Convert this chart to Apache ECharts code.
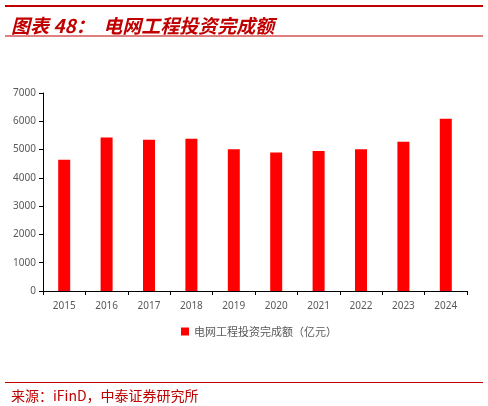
<!DOCTYPE html>
<html><head><meta charset="utf-8">
<script src="https://cdn.jsdelivr.net/npm/echarts@6/dist/echarts.min.js"></script>
<style>html,body{margin:0;padding:0;background:#fff}#c{width:488px;height:406px}</style>
</head><body><div id="c"></div>
<script>
const categories = ['2015','2016','2017','2018','2019','2020','2021','2022','2023','2024'];
const investment = [4640, 5430, 5350, 5380, 5010, 4900, 4950, 5010, 5280, 6090];
const seriesName = '电网工程投资完成额（亿元）';
const yTicks = {min: 0, max: 7000, interval: 1000};

const chart = echarts.init(document.getElementById('c'));
chart.setOption({
  animation: false,
  backgroundColor: '#fff',
  title: [
    {text: '图表 48：  电网工程投资完成额', left: 6, top: 11,
     textStyle: {color: '#C00000', fontSize: 19, fontWeight: 'bold', fontStyle: 'italic', fontFamily: 'Noto Sans CJK SC'}},
    {text: '来源：iFinD，中泰证券研究所', left: 6, top: 384,
     textStyle: {color: '#C00000', fontSize: 14, fontWeight: 'normal', fontFamily: 'Noto Sans CJK SC'}}
  ],
  graphic: [
    {type: 'rect', shape: {x: 5, y: 5, width: 478, height: 2}, style: {fill: '#C00000'}},
    {type: 'rect', shape: {x: 5, y: 35.5, width: 478, height: 1}, style: {fill: '#C00000'}},
    {type: 'rect', shape: {x: 5, y: 382, width: 478, height: 1}, style: {fill: '#C00000'}}
  ],
  legend: {
    left: 176, top: 321, icon: 'rect', itemWidth: 8, itemHeight: 8, itemGap: 4,
    textStyle: {color: '#595959', fontSize: 11, fontFamily: 'Noto Sans CJK SC'},
    data: [seriesName]
  },
  grid: {left: 43, right: 21, top: 93, bottom: 115, containLabel: false},
  xAxis: {
    type: 'category', data: categories,
    axisLine: {lineStyle: {color: '#000', width: 1}},
    axisTick: {show: true, inside: false, length: 4, lineStyle: {color: '#000'}},
    axisLabel: {color: '#595959', fontSize: 10, margin: 10, fontFamily: 'Noto Sans'}
  },
  yAxis: {
    type: 'value', min: yTicks.min, max: yTicks.max, interval: yTicks.interval,
    axisLine: {show: true, lineStyle: {color: '#000', width: 1}},
    axisTick: {show: true, inside: false, length: 4, lineStyle: {color: '#000'}},
    splitLine: {show: false},
    axisLabel: {color: '#595959', fontSize: 10, margin: 7, fontFamily: 'Noto Sans', formatter: v => String(v)}
  },
  series: [{
    name: seriesName, type: 'bar', data: investment, barWidth: 12,
    itemStyle: {color: '#FF0000'}
  }]
});
</script></body></html>
